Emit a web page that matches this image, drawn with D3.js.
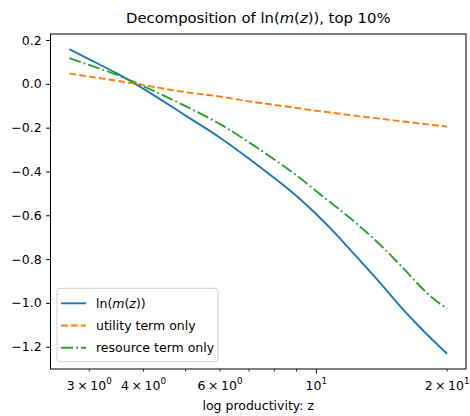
<!DOCTYPE html>
<html>
<head>
<meta charset="utf-8">
<script src="https://cdn.jsdelivr.net/npm/d3@7"></script>
<style>
  html, body { margin: 0; padding: 0; background: #fff; }
  svg { display: block; font-family: "DejaVu Sans", sans-serif; }
</style>
</head>
<body>
<svg id="chart" width="470" height="416"></svg>
<script>
// productivity grid (log scale)
const zValues = [2.7, 3, 3.5, 4, 5, 6, 7, 8, 9, 10, 11, 12, 14, 16, 18, 19, 20];
// ln(m(z))
const lnM = [0.158, 0.112, 0.044, -0.023, -0.145, -0.246, -0.342, -0.430, -0.512, -0.595, -0.678, -0.760, -0.907, -1.040, -1.145, -1.190, -1.232];
// utility term only
const utilityTerm = [0.047, 0.033, 0.013, -0.006, -0.038, -0.058, -0.080, -0.096, -0.110, -0.123, -0.133, -0.143, -0.159, -0.173, -0.185, -0.190, -0.195];
// resource term only
const resourceTerm = [0.117, 0.086, 0.038, -0.011, -0.102, -0.184, -0.267, -0.345, -0.418, -0.490, -0.555, -0.615, -0.733, -0.850, -0.956, -0.995, -1.025];

const yTicks = [0.2, 0.0, -0.2, -0.4, -0.6, -0.8, -1.0, -1.2];
const xLabelled = [
  { v: 3, base: "3\u2009\u00d7\u200910", exp: "0" },
  { v: 4, base: "4\u2009\u00d7\u200910", exp: "0" },
  { v: 6, base: "6\u2009\u00d7\u200910", exp: "0" },
  { v: 10, base: "10", exp: "1" },
  { v: 20, base: "2\u2009\u00d7\u200910", exp: "1" }
];
const xMinorTicks = [3, 4, 5, 6, 7, 8, 9, 20];
const xMajorTicks = [10];

const series = [
  { name: "ln(m(z))", values: lnM, color: "#1f77b4", dash: null },
  { name: "utility term only", values: utilityTerm, color: "#ff7f0e", dash: "6.9,3" },
  { name: "resource term only", values: resourceTerm, color: "#2ca02c", dash: "12,3,1.9,3" }
];

const svg = d3.select("#chart");
const L = 50.5, R = 466, T = 34, B = 369;

// 5% margins in log space on x, linear on y
const lx0 = Math.log10(d3.min(zValues)), lx1 = Math.log10(d3.max(zValues));
const mx = (lx1 - lx0) * 0.05;
const x = d3.scaleLog().domain([Math.pow(10, lx0 - mx), Math.pow(10, lx1 + mx)]).range([L, R]);
const allY = lnM.concat(utilityTerm, resourceTerm);
const y0 = d3.min(allY), y1 = d3.max(allY), my = (y1 - y0) * 0.05;
const y = d3.scaleLinear().domain([y0 - my, y1 + my]).range([B, T]);

const fs = 12.5;
const minus = s => s.replace("-", "\u2212");

// series lines
const line = d3.line().x((d, i) => x(zValues[i])).y(d => y(d)).curve(d3.curveMonotoneX);
series.forEach(s => {
  svg.append("path")
    .attr("d", line(s.values))
    .attr("fill", "none")
    .attr("stroke", s.color)
    .attr("stroke-width", 1.9)
    .attr("stroke-dasharray", s.dash);
});

// y axis ticks & labels
const yAxis = d3.axisLeft(y).tickValues(yTicks).tickSize(4.4).tickPadding(4.4)
  .tickFormat(d => minus(d3.format(".1f")(d)));
const gy = svg.append("g").attr("transform", `translate(${L},0)`).call(yAxis);
gy.select(".domain").remove();
gy.selectAll("line").attr("stroke", "#000").attr("stroke-width", 1);
gy.selectAll("text").attr("font-size", fs).attr("fill", "#000")
  .attr("font-family", "DejaVu Sans");

// x axis ticks
const gx = svg.append("g");
gx.selectAll("line.minor").data(xMinorTicks).join("line")
  .attr("x1", d => x(d)).attr("x2", d => x(d))
  .attr("y1", B).attr("y2", B + 2.6)
  .attr("stroke", "#000").attr("stroke-width", 0.8);
gx.selectAll("line.major").data(xMajorTicks).join("line")
  .attr("x1", d => x(d)).attr("x2", d => x(d))
  .attr("y1", B).attr("y2", B + 4.4)
  .attr("stroke", "#000").attr("stroke-width", 1);

// x tick labels with superscript exponent
xLabelled.forEach(t => {
  const txt = gx.append("text")
    .attr("x", x(t.v)).attr("y", 389.5)
    .attr("text-anchor", "middle")
    .attr("font-size", fs).attr("fill", "#000");
  txt.append("tspan").text(t.base);
  txt.append("tspan").attr("dy", -5.5).attr("font-size", fs * 0.7).text(t.exp);
});

// frame
svg.append("rect")
  .attr("x", L).attr("y", T).attr("width", R - L).attr("height", B - T)
  .attr("fill", "none").attr("stroke", "#000").attr("stroke-width", 1);

// title
const title = svg.append("text")
  .attr("x", (L + R) / 2).attr("y", 23)
  .attr("text-anchor", "middle").attr("font-size", 14.8).attr("fill", "#000");
title.append("tspan").text("Decomposition of ln(");
title.append("tspan").attr("font-style", "italic").text("m");
title.append("tspan").text("(");
title.append("tspan").attr("font-style", "italic").text("z");
title.append("tspan").text(")), top 10%");

// x axis label
svg.append("text")
  .attr("x", (L + R) / 2).attr("y", 410)
  .attr("text-anchor", "middle").attr("font-size", fs).attr("fill", "#000")
  .text("log productivity: z");

// legend
const lg = svg.append("g");
lg.append("rect")
  .attr("x", 57).attr("y", 288.3).attr("width", 161).attr("height", 73.4)
  .attr("rx", 3).attr("fill", "#fff").attr("fill-opacity", 0.8)
  .attr("stroke", "#d0d0d0").attr("stroke-width", 1);
series.forEach((s, i) => {
  const ry = 303.3 + i * 22.2;
  lg.append("line")
    .attr("x1", 61).attr("x2", 86).attr("y1", ry).attr("y2", ry)
    .attr("stroke", s.color).attr("stroke-width", 1.9)
    .attr("stroke-dasharray", s.dash);
  const t = lg.append("text")
    .attr("x", 96).attr("y", ry + 4.5)
    .attr("font-size", fs).attr("fill", "#000");
  if (i === 0) {
    t.append("tspan").text("ln(");
    t.append("tspan").attr("font-style", "italic").text("m");
    t.append("tspan").text("(");
    t.append("tspan").attr("font-style", "italic").text("z");
    t.append("tspan").text("))");
  } else {
    t.text(s.name);
  }
});
</script>
</body>
</html>
